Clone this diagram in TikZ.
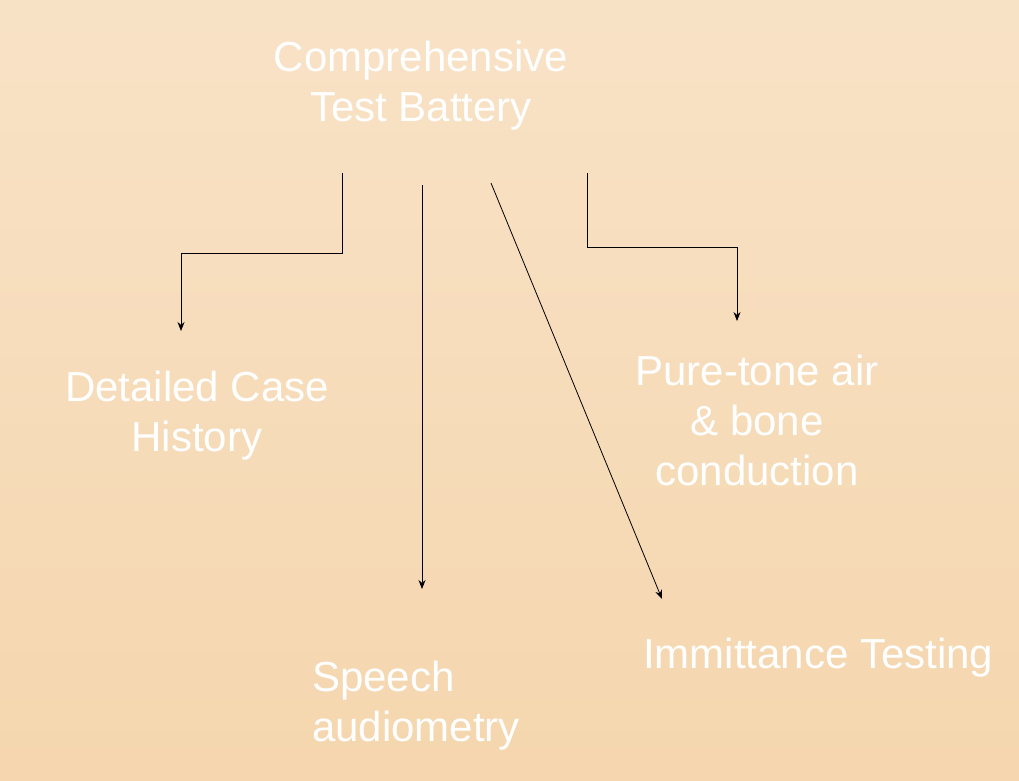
\documentclass[tikz,border=0pt]{standalone}
\usepackage{fontspec}
\setmainfont{Liberation Sans}
\usetikzlibrary{arrows.meta}
\definecolor{bgA}{HTML}{F8E2C6}
\definecolor{bgB}{HTML}{F5D6AE}
\begin{document}
\begin{tikzpicture}[x=1pt,y=-1pt,
  lbl/.style={text=white,font=\fontsize{42}{50}\selectfont,inner sep=0pt},
  arr/.style={draw=black,line width=0.8pt,-{Stealth[length=9pt,width=7pt]}}]
\shade[top color=bgA,bottom color=bgB] (0,0) rectangle (1019,780);
\useasboundingbox (0,0) rectangle (1019,780);
\node[lbl,align=center] (top) at (421,86) {Comprehensive\\Test Battery};
\node[lbl,align=center] (case) at (197,416) {Detailed Case\\History};
\node[lbl,align=center] (pure) at (757,420) {Pure-tone air\\\& bone\\conduction};
\node[lbl,align=left,anchor=west] (speech) at (312,706) {Speech\\audiometry};
\node[lbl,anchor=west] (imm) at (643,658) {Immittance Testing};
\coordinate (s1) at (342,173); \coordinate (e1) at (181,331);
\coordinate (s2) at (422,185); \coordinate (e2) at (422,589);
\coordinate (s3) at (491,183); \coordinate (e3) at (662,599);
\coordinate (s4) at (587,173); \coordinate (e4) at (737,321);
\draw[arr] (s1) -- (342,253) -- (181,253) -- (e1);
\draw[arr] (s2) -- (e2);
\draw[arr] (s3) -- (e3);
\draw[arr] (s4) -- (587,247) -- (737,247) -- (e4);
\end{tikzpicture}
\end{document}
